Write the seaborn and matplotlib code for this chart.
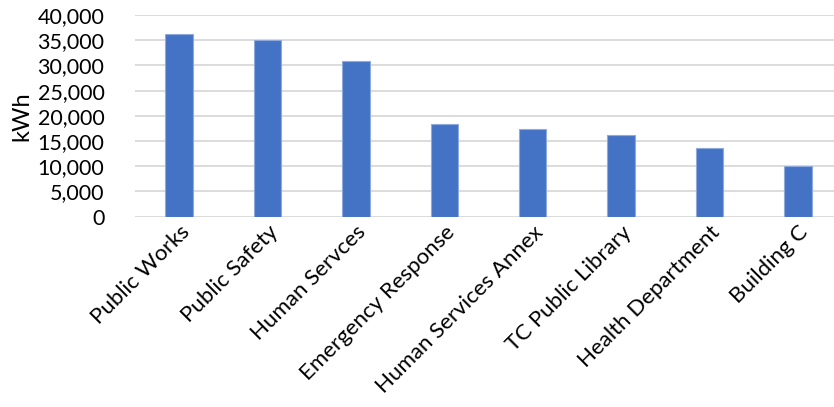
import matplotlib
matplotlib.use("Agg")
import matplotlib.pyplot as plt
import seaborn as sns
import pandas as pd
from matplotlib.ticker import FuncFormatter

buildings = ["Public Works", "Public Safety", "Human Servces", "Emergency Response",
             "Human Services Annex", "TC Public Library", "Health Department", "Building C"]
kwh = [36200, 35100, 30800, 18300, 17300, 16250, 13550, 10100]

df = pd.DataFrame({"building": buildings, "kwh": kwh})

sns.set_theme(style="white")
plt.rcParams['font.family'] = ['Lato', 'DejaVu Sans']

fig = plt.figure(figsize=(8.34, 4.07), dpi=100)
ax = fig.add_axes([135/834, 1-216.7/407, 1-135/834, (216.7-15)/407])

sns.barplot(data=df, x="building", y="kwh", color="#4472C4", width=0.31, saturation=1,
            edgecolor="#8FAADC", linewidth=0.8, ax=ax, zorder=3)

ax.set_ylim(0, 40000)
ax.set_yticks(range(0, 40001, 5000))
ax.yaxis.set_major_formatter(FuncFormatter(lambda v, p: f"{int(v):,}"))
ax.set_xlim(-0.5, 7.5 - 8/88.4)
ax.grid(axis="y", color="#D9D9D9", linewidth=1.3, zorder=0)
ax.set_axisbelow(True)
for s in ["top", "right", "left", "bottom"]:
    ax.spines[s].set_visible(False)
ax.set_xlabel("")
ax.set_ylabel("kWh", fontsize=17, labelpad=4, color="#000000")
ax.tick_params(axis="y", labelsize=15.5, length=0, pad=22, colors="#000000")
ax.tick_params(axis="x", labelsize=16, length=0, pad=4, colors="#000000")
for lab in ax.get_xticklabels():
    lab.set_rotation(45)
    lab.set_ha("right")
    lab.set_rotation_mode("anchor")

fig.savefig("out.png", dpi=100)
